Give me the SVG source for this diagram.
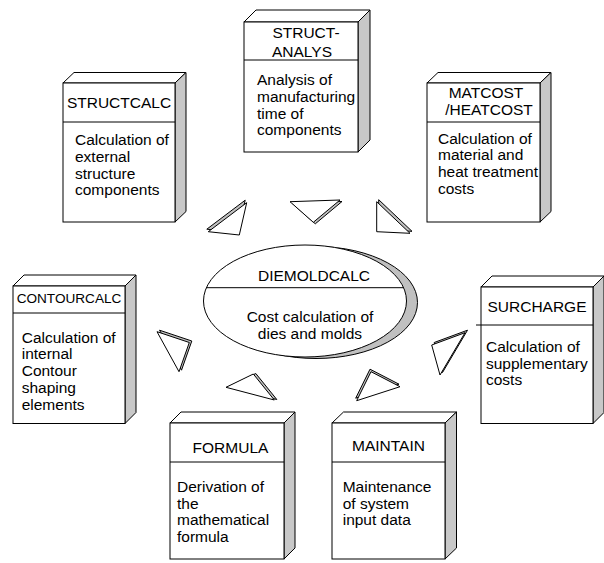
<svg xmlns="http://www.w3.org/2000/svg" width="604" height="563" viewBox="0 0 604 563">
<style>
  .face{fill:#fff;stroke:#000;stroke-width:1}
  .top{fill:#fff;stroke:#000;stroke-width:1;stroke-linejoin:round}
  .side{fill:#c8c8c8;stroke:#000;stroke-width:1;stroke-linejoin:round}
  .sep{stroke:#000;stroke-width:1}
  text{font-family:"Liberation Sans",Arial,sans-serif;font-size:15.5px;fill:#000}
  .title{text-anchor:middle}
  .ctr{text-anchor:middle}
  .tri{fill:#fff;stroke:#000;stroke-width:1;stroke-linejoin:miter}
  .trs{fill:#c0c0c0;stroke:#000;stroke-width:1}
</style>
<rect width="604" height="563" fill="#fff"/>

<g id="structcalc">
  <polygon class="top" points="63,83 74,72.5 186,72.5 175,83"/>
  <polygon class="side" points="175,83 186,72.5 186,211.5 175,222"/>
  <rect class="face" x="63" y="83" width="112" height="139"/>
  <line class="sep" x1="63" y1="122" x2="175" y2="122"/>
  <text class="title" x="119" y="108">STRUCTCALC</text>
  <text><tspan x="75" y="145">Calculation of</tspan><tspan x="75" y="161.8">external</tspan><tspan x="75" y="178.6">structure</tspan><tspan x="75" y="195.4">components</tspan></text>
</g>

<g id="structanalys">
  <polygon class="top" points="244,22 256,10 370,10 358,22"/>
  <polygon class="side" points="358,22 370,10 370,140 358,152"/>
  <rect class="face" x="244" y="22" width="114" height="130"/>
  <line class="sep" x1="244" y1="60" x2="358" y2="60"/>
  <text class="title" x="306" y="38">STRUCT-</text>
  <text class="title" x="302" y="56.5">ANALYS</text>
  <text><tspan x="257" y="85">Analysis of</tspan><tspan x="257" y="101.8">manufacturing</tspan><tspan x="257" y="118.6">time of</tspan><tspan x="257" y="135.4">components</tspan></text>
</g>

<g id="matcost">
  <polygon class="top" points="427,83 438,72.5 551,72.5 540,83"/>
  <polygon class="side" points="540,83 551,72.5 551,211.5 540,222"/>
  <rect class="face" x="427" y="83" width="113" height="139"/>
  <line class="sep" x1="427" y1="122" x2="540" y2="122"/>
  <text class="title" x="486" y="98">MATCOST</text>
  <text class="title" x="489" y="115">/HEATCOST</text>
  <text><tspan x="438" y="143.5">Calculation of</tspan><tspan x="438" y="160.3">material and</tspan><tspan x="438" y="177.1">heat treatment</tspan><tspan x="438" y="193.9">costs</tspan></text>
</g>

<g id="contourcalc">
  <polygon class="top" points="13,286 24,275 136,275 125,286"/>
  <polygon class="side" points="125,286 136,275 136,412.5 125,423.5"/>
  <rect class="face" x="13" y="286" width="112" height="137.5"/>
  <line class="sep" x1="13" y1="313" x2="125" y2="313"/>
  <text class="title" x="69" y="303" style="font-size:13.6px">CONTOURCALC</text>
  <text><tspan x="21.7" y="342.5">Calculation of</tspan><tspan x="21.7" y="359.3">internal</tspan><tspan x="21.7" y="376.1">Contour</tspan><tspan x="21.7" y="392.9">shaping</tspan><tspan x="21.7" y="409.7">elements</tspan></text>
</g>

<g id="surcharge">
  <polygon class="top" points="481,287 492,276 604,276 593,287"/>
  <polygon class="side" points="593,287 604,276 604,412.5 593,423.5"/>
  <rect class="face" x="481" y="287" width="112" height="136.5"/>
  <line class="sep" x1="476" y1="325" x2="593" y2="325"/>
  <text class="title" x="537" y="312">SURCHARGE</text>
  <text><tspan x="486" y="351.7">Calculation of</tspan><tspan x="486" y="368.5">supplementary</tspan><tspan x="486" y="385.3">costs</tspan></text>
</g>

<g id="formula">
  <polygon class="top" points="170,423 181,412 295,412 284,423"/>
  <polygon class="side" points="284,423 295,412 295,548 284,559"/>
  <rect class="face" x="170" y="423" width="114" height="136"/>
  <line class="sep" x1="170" y1="462" x2="284" y2="462"/>
  <text class="title" x="230.5" y="453">FORMULA</text>
  <text><tspan x="177" y="491.7">Derivation of</tspan><tspan x="177" y="508.5">the</tspan><tspan x="177" y="525.3">mathematical</tspan><tspan x="177" y="542.1">formula</tspan></text>
</g>

<g id="maintain">
  <polygon class="top" points="332,423 343.5,412 456.5,412 445,423"/>
  <polygon class="side" points="445,423 456.5,412 456.5,548 445,559"/>
  <rect class="face" x="332" y="423" width="113" height="136"/>
  <line class="sep" x1="332" y1="462" x2="445" y2="462"/>
  <text class="title" x="388.5" y="450.5">MAINTAIN</text>
  <text><tspan x="342.7" y="491.7">Maintenance</tspan><tspan x="342.7" y="508.5">of system</tspan><tspan x="342.7" y="525.3">input data</tspan></text>
</g>

<g id="diemoldcalc">
  <ellipse cx="316" cy="302.5" rx="101.5" ry="56" fill="#c0c0c0" stroke="#000" stroke-width="1"/>
  <ellipse cx="305" cy="301" rx="101.5" ry="56" fill="#fff" stroke="#000" stroke-width="1"/>
  <line class="sep" x1="206.4" y1="287.7" x2="403.6" y2="287.7"/>
  <text class="ctr" x="314" y="280.7">DIEMOLDCALC</text>
  <text class="ctr" x="310" y="321.7">Cost calculation of</text>
  <text class="ctr" x="310" y="338.5">dies and molds</text>
</g>

<g id="connectors">
  <g transform="translate(-1.5,-2.5)"><polygon class="trs" points="208.3,231.7 246.7,202.7 239.3,235"/></g>
  <polygon class="tri" points="208.3,231.7 246.7,202.7 239.3,235"/>

  <g transform="translate(2,1.5)"><polygon class="trs" points="290,201.7 340,200 313.3,222.3"/></g>
  <polygon class="tri" points="290,201.7 340,200 313.3,222.3"/>

  <g transform="translate(2,-2)"><polygon class="trs" points="376.7,201.7 410,233.3 376.7,231.7"/></g>
  <polygon class="tri" points="376.7,201.7 410,233.3 376.7,231.7"/>

  <g transform="translate(2.5,-1.5)"><polygon class="trs" points="157,331.7 189.3,342.5 179,371.7"/></g>
  <polygon class="tri" points="157,331.7 189.3,342.5 179,371.7"/>

  <g transform="translate(2.5,-2.5)"><polygon class="trs" points="431.7,345 465,332.7 440,375"/></g>
  <polygon class="tri" points="431.7,345 465,332.7 440,375"/>

  <g transform="translate(2.5,-0.5)"><polygon class="trs" points="226,387.3 253.3,374 274.3,400"/></g>
  <polygon class="tri" points="226,387.3 253.3,374 274.3,400"/>

  <g transform="translate(-1,-2.5)"><polygon class="trs" points="356.7,400.7 371,371.7 400,386.7"/></g>
  <polygon class="tri" points="356.7,400.7 371,371.7 400,386.7"/>
</g>
</svg>
